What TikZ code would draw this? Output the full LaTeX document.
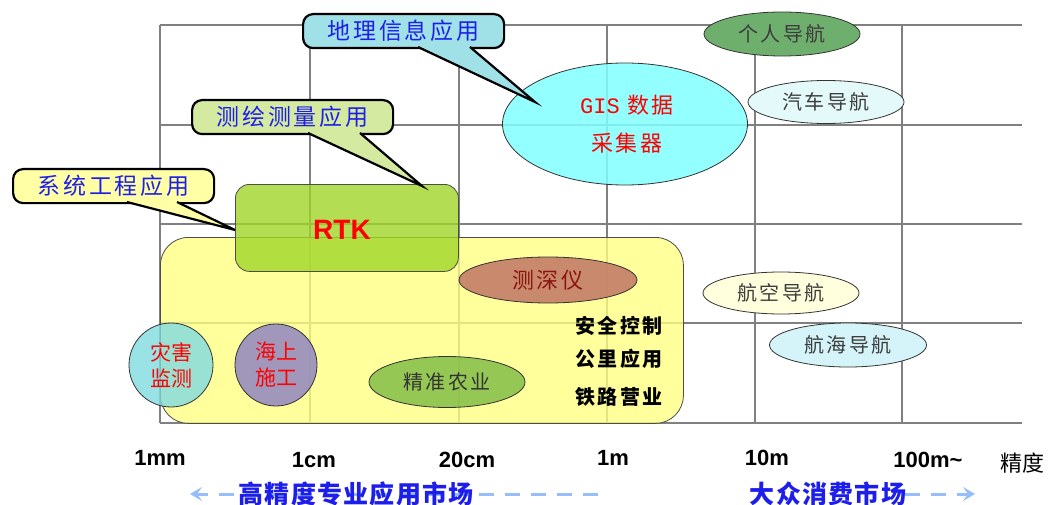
\documentclass[tikz,border=0pt]{standalone}
\usepackage{fontspec}
\newfontfamily\cjk{Noto Sans CJK SC}
\newfontfamily\cjksp{Noto Sans CJK SC}[LetterSpace=12]
\newfontfamily\cjkmk{Noto Sans CJK SC}[LetterSpace=5]
\newfontfamily\arial{Liberation Sans}
\newfontfamily\mono{Liberation Mono}
\usetikzlibrary{shapes.geometric,arrows.meta,calc}
\definecolor{gridgray}{RGB}{128,128,128}
\definecolor{proyellow}{RGB}{255,255,128}
\definecolor{rtkgreen}{RGB}{160,214,40}
\definecolor{cyellow}{RGB}{255,255,165}
\definecolor{cgreen}{RGB}{212,234,160}
\definecolor{ccyan}{RGB}{160,225,232}
\definecolor{giscyan}{RGB}{128,255,255}
\definecolor{pgreen}{RGB}{110,175,110}
\definecolor{carcyan}{RGB}{228,250,250}
\definecolor{airyellow}{RGB}{255,255,222}
\definecolor{seacyan}{RGB}{212,244,250}
\definecolor{brown1}{RGB}{195,125,105}
\definecolor{agrigreen}{RGB}{130,190,70}
\definecolor{discyan}{RGB}{128,220,225}
\definecolor{purple1}{RGB}{150,140,190}
\definecolor{bluetext}{RGB}{30,30,235}
\definecolor{lightblue}{RGB}{150,190,250}
\definecolor{navtext}{RGB}{60,60,60}
\definecolor{darkred1}{RGB}{140,20,20}
\begin{document}
\begin{tikzpicture}[x=1pt,y=-1pt,
  gridline/.style={draw=gridgray,line width=2.5pt},
  callout/.style={draw=black,line width=2.2pt,rounded corners=10pt,minimum width=201pt,minimum height=34pt,inner sep=0pt,anchor=north west,font=\cjksp\fontsize{23}{25}\selectfont,text=bluetext},
  calloutline/.style={draw=black,line width=2.2pt,line join=miter},
  oval/.style={ellipse,draw=black!80,line width=0.8pt,inner sep=0pt,font=\cjksp\fontsize{20}{22}\selectfont,text=navtext},
  disc/.style={circle,draw=black!80,line width=0.8pt,inner sep=0pt,minimum size=84pt,align=center,font=\cjk\fontsize{21}{26}\selectfont,text=red},
  axislabel/.style={font=\arial\bfseries\fontsize{22}{24}\selectfont,inner sep=0pt},
  market/.style={font=\cjkmk\bfseries\fontsize{25}{27}\selectfont,text=bluetext,inner sep=0pt},
  dasharrow/.style={draw=lightblue,line width=3pt,dash pattern=on 15pt off 11pt},
  plain/.style={font=\cjksp\bfseries\fontsize{20}{22}\selectfont,inner sep=0pt}
]
\useasboundingbox (0,0) rectangle (1048,505);
% grid
\foreach \x in {160,310,459,607,755,902} \draw[gridline] (\x,25) -- (\x,423);
\foreach \y in {25,125,224,323,423} \draw[gridline] (160,\y) -- (1022,\y);
% professional area
\node[draw=black!70,line width=0.8pt,fill=proyellow,fill opacity=0.78,rounded corners=28pt,minimum width=523pt,minimum height=186pt,anchor=north west,inner sep=0pt] (pro) at (160,237) {};
% RTK
\node[draw=black!70,line width=0.8pt,fill=rtkgreen,fill opacity=0.8,rounded corners=14pt,minimum width=223pt,minimum height=87pt,anchor=north west,inner sep=0pt] (rtkbox) at (235,184) {};
\node[font=\arial\bfseries\fontsize{28}{30}\selectfont,text=red,inner sep=0pt] (rtk) at (342,230) {RTK};
% GIS
\node[ellipse,draw=black!80,line width=0.8pt,fill=giscyan,fill opacity=0.85,minimum width=245pt,minimum height=122pt,inner sep=0pt] (gis) at (625,124) {};
\node[font=\cjksp\fontsize{22}{24}\selectfont,text=red,inner sep=0pt] (gis1) at (627,105) {{\mono GIS} 数据};
\node[font=\cjksp\fontsize{22}{24}\selectfont,text=red,inner sep=0pt] (gis2) at (627,143) {采集器};
% navigation ovals
\node[oval,fill=pgreen,minimum width=156pt,minimum height=44pt] (pnav) at (782,34) {个人导航};
\node[oval,fill=carcyan,minimum width=156pt,minimum height=43pt] (cnav) at (826,102) {汽车导航};
\node[oval,fill=airyellow,minimum width=156pt,minimum height=42pt] (anav) at (781,293) {航空导航};
\node[oval,fill=seacyan,minimum width=157pt,minimum height=44pt] (snav) at (848,345) {航海导航};
% inside professional area
\node[oval,fill=brown1,fill opacity=0.9,text opacity=1,text=darkred1,minimum width=178pt,minimum height=46pt,font=\cjksp\fontsize{22}{24}\selectfont] (sounder) at (548,280) {测深仪};
\node[oval,fill=agrigreen,fill opacity=0.85,text opacity=1,text=black!80,minimum width=156pt,minimum height=51pt] (agri) at (447,382) {精准农业};
\node[disc,fill=discyan,fill opacity=0.8,text opacity=1] (disaster) at (171,365) {灾害\\监测};
\node[disc,fill=purple1,fill opacity=0.9,text opacity=1,minimum size=82pt] (marine) at (276,365) {海上\\施工};
\node[plain] (safe) at (619,326) {安全控制};
\node[plain] (km) at (619,359) {公里应用};
\node[plain] (rail) at (619,397) {铁路营业};
% callout 1
\node[callout,fill=cyellow] (c1) at (12,168) {系统工程应用};
\coordinate (b1a) at (127,202);
\coordinate (b1b) at (177,202);
\coordinate (t1) at (235,230);
\fill[cyellow] ($(b1a)!-0.14!(t1)$) -- (t1) -- ($(b1b)!-0.14!(t1)$) -- cycle;
\draw[calloutline] (b1a) -- (t1) -- (b1b);
% callout 2
\node[callout,fill=cgreen] (c2) at (191,99) {测绘测量应用};
\coordinate (b2a) at (308,133);
\coordinate (b2b) at (360,133);
\coordinate (t2) at (422,186);
\fill[cgreen] ($(b2a)!-0.08!(t2)$) -- (t2) -- ($(b2b)!-0.08!(t2)$) -- cycle;
\draw[calloutline] (b2a) -- (t2) -- (b2b);
% callout 3
\node[callout,fill=ccyan] (c3) at (302,13) {地理信息应用};
\coordinate (b3a) at (418,47);
\coordinate (b3b) at (470,47);
\coordinate (t3) at (535,102);
\fill[ccyan] ($(b3a)!-0.08!(t3)$) -- (t3) -- ($(b3b)!-0.08!(t3)$) -- cycle;
\draw[calloutline] (b3a) -- (t3) -- (b3b);
% axis labels
\node[axislabel] (l1) at (160,458) {1mm};
\node[axislabel] (l2) at (314,460) {1cm};
\node[axislabel] (l3) at (467,460) {20cm};
\node[axislabel] (l4) at (613,458) {1m};
\node[axislabel] (l5) at (767,458) {10m};
\node[axislabel] (l6) at (928,460) {100m\~{}};
\node[font=\cjk\fontsize{22}{24}\selectfont,inner sep=0pt] (l7) at (1022,463) {精度};
% market arrows
\coordinate (a1s) at (598,494);
\coordinate (a1e) at (190,494);
\draw[dasharrow,-{Stealth[length=12pt,width=14pt,inset=5pt]}] (a1s) -- (a1e);
\node[market] (m1) at (356,494) {高精度专业应用市场};
\coordinate (a2s) at (905,494);
\coordinate (a2e) at (975,494);
\draw[dasharrow,-{Stealth[length=12pt,width=14pt,inset=5pt]}] (a2s) -- (a2e);
\node[market] (m2) at (828,494) {大众消费市场};
\end{tikzpicture}
\end{document}
